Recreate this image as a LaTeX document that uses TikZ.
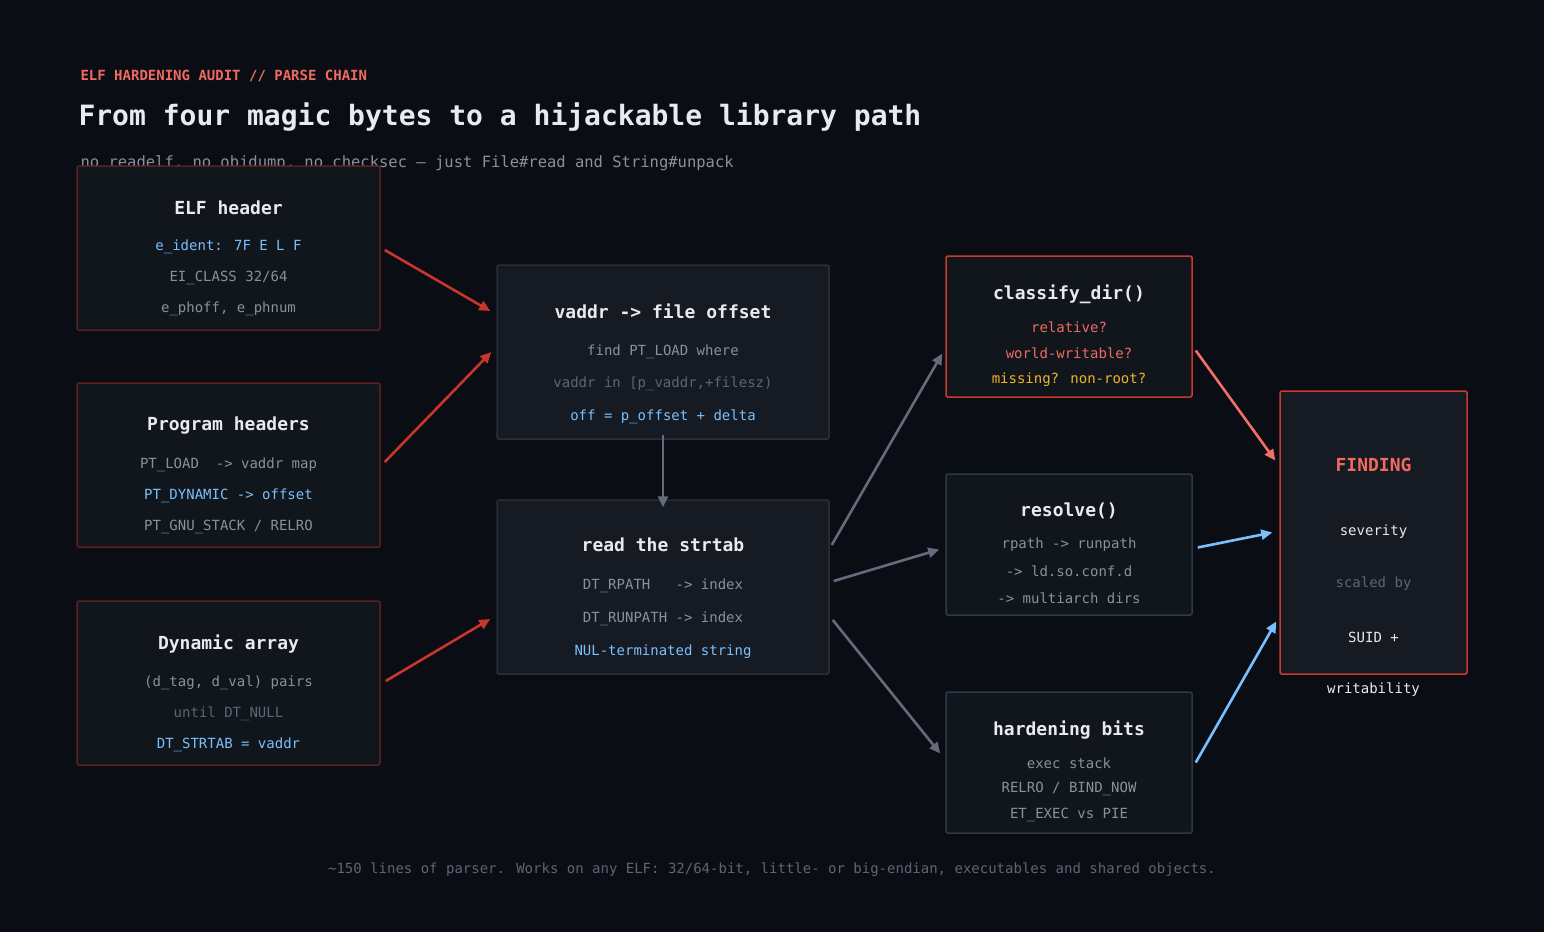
\documentclass[tikz,border=0pt]{standalone}
\usepackage{fontspec}
\setmainfont{DejaVu Sans Mono}
\setmonofont{DejaVu Sans Mono}
\usetikzlibrary{arrows.meta}
\definecolor{bg}{HTML}{0A0D14}
\definecolor{fillA}{HTML}{11151C}
\definecolor{fillB}{HTML}{161A22}
\definecolor{bRed}{HTML}{5A1F22}
\definecolor{bGray}{HTML}{2A2E36}
\definecolor{bBlue}{HTML}{2A3A4A}
\definecolor{bHot}{HTML}{C8392E}
\definecolor{tW}{HTML}{E8EAEE}
\definecolor{tG}{HTML}{8B909A}
\definecolor{tD}{HTML}{5D6575}
\definecolor{tB}{HTML}{79C0FF}
\definecolor{tR}{HTML}{F06A60}
\definecolor{tY}{HTML}{F0B429}
\definecolor{aR}{HTML}{C8352B}
\definecolor{aS}{HTML}{F07068}
\definecolor{aG}{HTML}{636B7C}
\tikzset{
 box/.style={draw, line width=1.5pt, rounded corners=1.5pt, inner sep=0pt},
 lb/.style={box, fill=fillA, draw=bRed, minimum width=303pt, minimum height=164pt},
 cb/.style={box, fill=fillB, draw=bGray, minimum width=332pt, minimum height=174pt},
 rb/.style={box, fill=fillA, draw=bBlue, minimum width=246pt, minimum height=141pt},
 ttl/.style={text=tW, font=\bfseries\fontsize{18}{20}\selectfont},
 ln/.style={font=\fontsize{14}{16}\selectfont, text=tG},
 arr/.style={line width=2.6pt, -{Triangle[length=11pt,width=10pt]}},
}
\begin{document}
\begin{tikzpicture}[x=1pt,y=-1pt]
\fill[bg] (0,0) rectangle (1544,932);
\useasboundingbox (0,0) rectangle (1544,932);
\node[anchor=west, text=tR, font=\bfseries\fontsize{14}{16}\selectfont] (kick) at (77,76) {ELF HARDENING AUDIT // PARSE CHAIN};
\node[anchor=west, text=tW, font=\bfseries\fontsize{28}{32}\selectfont] (title) at (75,117) {From four magic bytes to a hijackable library path};
\node[anchor=west, ln, font=\fontsize{15.5}{18}\selectfont] (sub) at (77,163) {no readelf, no objdump, no checksec -- just File\#read and String\#unpack};

\node[lb] (elf) at (228.5,248) {};
\node[ttl] (elf1) at (228.5,208) {ELF header};
\node[ln, text=tB] (elf2) at (228.5,247) {e\_ident: 7F E L F};
\node[ln] (elf3) at (228.5,278) {EI\_CLASS 32/64};
\node[ln] (elf4) at (228.5,309) {e\_phoff, e\_phnum};

\node[lb] (ph) at (228.5,465) {};
\node[ttl] (ph1) at (228.5,426) {Program headers};
\node[ln] (ph2) at (228.5,465) {PT\_LOAD\ \ -> vaddr map};
\node[ln, text=tB] (ph3) at (228.5,496) {PT\_DYNAMIC -> offset};
\node[ln] (ph4) at (228.5,527) {PT\_GNU\_STACK / RELRO};

\node[lb] (dyn) at (228.5,683) {};
\node[ttl] (dyn1) at (228.5,644) {Dynamic array};
\node[ln] (dyn2) at (228.5,683) {(d\_tag, d\_val) pairs};
\node[ln, text=tD] (dyn3) at (228.5,714) {until DT\_NULL};
\node[ln, text=tB] (dyn4) at (228.5,745) {DT\_STRTAB = vaddr};

\node[cb] (va) at (663,352) {};
\node[ttl] (va1) at (663,311) {vaddr -> file offset};
\node[ln] (va2) at (663,352) {find PT\_LOAD where};
\node[ln, text=tD] (va3) at (663,384) {vaddr in [p\_vaddr,+filesz)};
\node[ln, text=tB] (va4) at (663,417) {off = p\_offset + delta};

\node[cb] (st) at (663,587) {};
\node[ttl] (st1) at (663,545) {read the strtab};
\node[ln] (st2) at (663,586) {DT\_RPATH\ \ \ -> index};
\node[ln] (st3) at (663,619) {DT\_RUNPATH -> index};
\node[ln, text=tB] (st4) at (663,652) {NUL-terminated string};

\node[rb, draw=bHot] (cl) at (1069,326.5) {};
\node[ttl] (cl1) at (1069,294) {classify\_dir()};
\node[ln, text=tR] (cl2) at (1069,327) {relative?};
\node[ln, text=tR] (cl3) at (1069,353) {world-writable?};
\node[ln, text=tY] (cl4) at (1069,380) {missing? non-root?};

\node[rb] (rs) at (1069,544.5) {};
\node[ttl] (rs1) at (1069,511) {resolve()};
\node[ln] (rs2) at (1069,545) {rpath -> runpath};
\node[ln] (rs3) at (1069,571) {-> ld.so.conf.d};
\node[ln] (rs4) at (1069,598) {-> multiarch dirs};

\node[rb] (hb) at (1069,762.5) {};
\node[ttl] (hb1) at (1069,730) {hardening bits};
\node[ln] (hb2) at (1069,763) {exec stack};
\node[ln] (hb3) at (1069,789) {RELRO / BIND\_NOW};
\node[ln] (hb4) at (1069,815) {ET\_EXEC vs PIE};

\node[box, fill=fillB, draw=bHot, minimum width=187pt, minimum height=283pt] (fd) at (1373.5,532.5) {};
\node[text=tR, font=\bfseries\fontsize{18}{20}\selectfont] (fd1) at (1373.5,465) {FINDING};
\node[ln, text=tW] (fd2) at (1373.5,532) {severity};
\node[ln, text=tD] (fd3) at (1373.5,584) {scaled by};
\node[ln, text=tW] (fd4) at (1373.5,637) {SUID +};
\node[ln, text=tW] (fd5) at (1373.5,690) {writability};

\node[ln, text=tD] (foot) at (772,870) {\textasciitilde150 lines of parser. Works on any ELF: 32/64-bit, little- or big-endian, executables and shared objects.};

\draw[arr, aR] ([shift={(4,2)}]elf.east) -- ([shift={(-6,-41)}]va.west);
\draw[arr, aR] ([shift={(4,-3)}]ph.east) -- ([shift={(-5,0)}]va.west);
\draw[arr, aR] ([shift={(5,-2)}]dyn.east) -- ([shift={(-6,32)}]st.west);
\draw[arr, aG] ([yshift=5]va.south) -- ([yshift=-8]st.north);
\draw[arr, aG] ([shift={(2,-42)}]st.east) -- ([shift={(-3,27)}]cl.west);
\draw[arr, aG] ([shift={(4,-6)}]st.east) -- ([shift={(-6,5)}]rs.west);
\draw[arr, aG] ([shift={(3,33)}]st.east) -- ([shift={(-5,-9)}]hb.west);
\draw[arr, aS] ([shift={(3,24)}]cl.east) -- ([shift={(-4,-72)}]fd.west);
\draw[arr, tB] ([shift={(5,3)}]rs.east) -- ([shift={(-7,0)}]fd.west);
\draw[arr, tB] ([shift={(3,0)}]hb.east) -- ([shift={(-3,89)}]fd.west);
\end{tikzpicture}
\end{document}
